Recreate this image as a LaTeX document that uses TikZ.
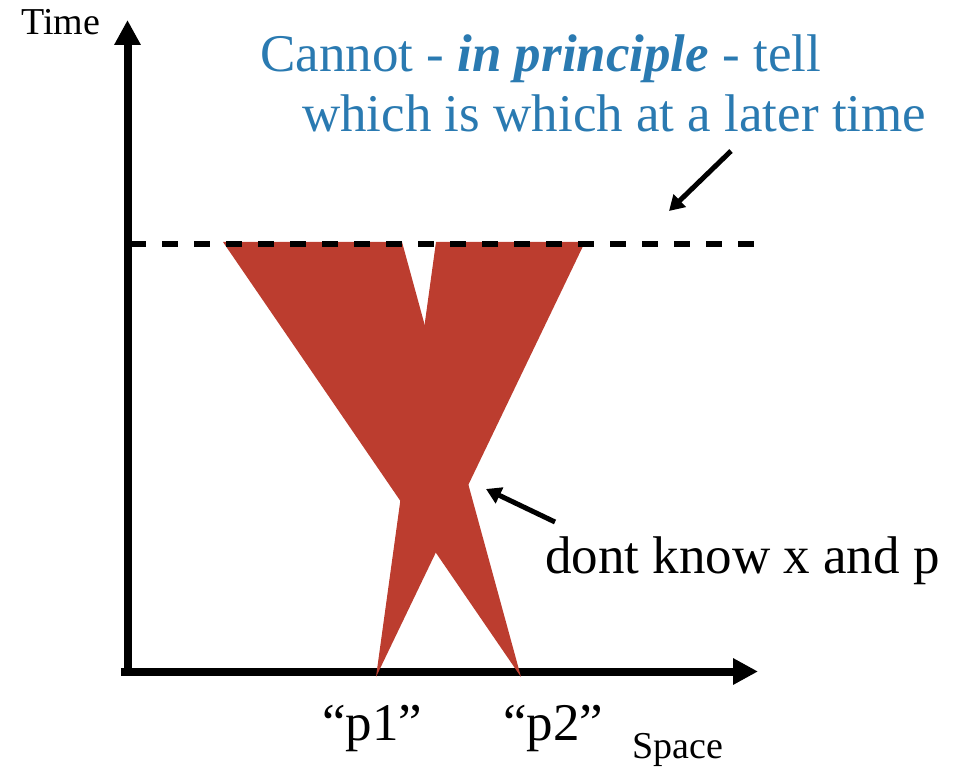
\documentclass[tikz,border=0pt]{standalone}
\usepackage{fontspec}
\setmainfont{Liberation Serif}
\usetikzlibrary{arrows.meta}
\definecolor{beamred}{HTML}{BC3D2F}
\definecolor{noteblue}{HTML}{2A7AB1}
\tikzset{
  axis/.style={line width=8pt, -{Triangle[length=25pt,width=25pt]}},
  note/.style={line width=5pt, -{Triangle[length=15pt,width=17pt]}},
  beam/.style={fill=beamred, draw=none},
  lbl/.style={inner sep=0pt, anchor=base west, font=\fontsize{53}{60}\selectfont},
  smalllbl/.style={inner sep=0pt, anchor=base west, font=\fontsize{38}{44}\selectfont},
  bluelbl/.style={lbl, text=noteblue},
  dashline/.style={line width=6pt, dash pattern=on 16pt off 16pt},
}
\begin{document}
\begin{tikzpicture}[x=1pt,y=-1pt]
\useasboundingbox (0,0) rectangle (962,767);
% axes
\coordinate (ytop) at (127.5,20);
\coordinate (xend) at (758,671.5);
\coordinate (xstart) at (121,671.5);
\coordinate (ystart) at (127.5,675);
\draw[axis] (ystart) -- (ytop);
\draw[axis] (xstart) -- (xend);
% beams
\coordinate (p1) at (376,677);
\coordinate (p2) at (521,677);
\fill[beam] (p1) -- (436,242) -- (585,242) -- cycle;
\fill[beam] (p2) -- (402,242) -- (223,242) -- cycle;
% dashed line
\coordinate (dl) at (130,244);
\coordinate (dr) at (762,244);
\draw[dashline] (dl) -- (dr);
% annotation arrows
\coordinate (a1s) at (731,151);
\coordinate (a1e) at (669,211);
\draw[note] (a1s) -- (a1e);
\coordinate (a2s) at (555,522);
\coordinate (a2e) at (486,489);
\draw[note] (a2s) -- (a2e);
% labels
\node[smalllbl] (time) at (21,35) {Time};
\node[smalllbl] (space) at (632,758) {Space};
\node[lbl] (lp1) at (322,740) {“p1”};
\node[lbl] (lp2) at (503,740) {“p2”};
\node[lbl] (dk) at (545,573) {dont know x and p};
\node[bluelbl] (l1) at (260,72) {Cannot - \textbf{\textit{in principle}} - tell};
\node[bluelbl] (l2) at (302,132) {which is which at a later time};
\end{tikzpicture}
\end{document}
